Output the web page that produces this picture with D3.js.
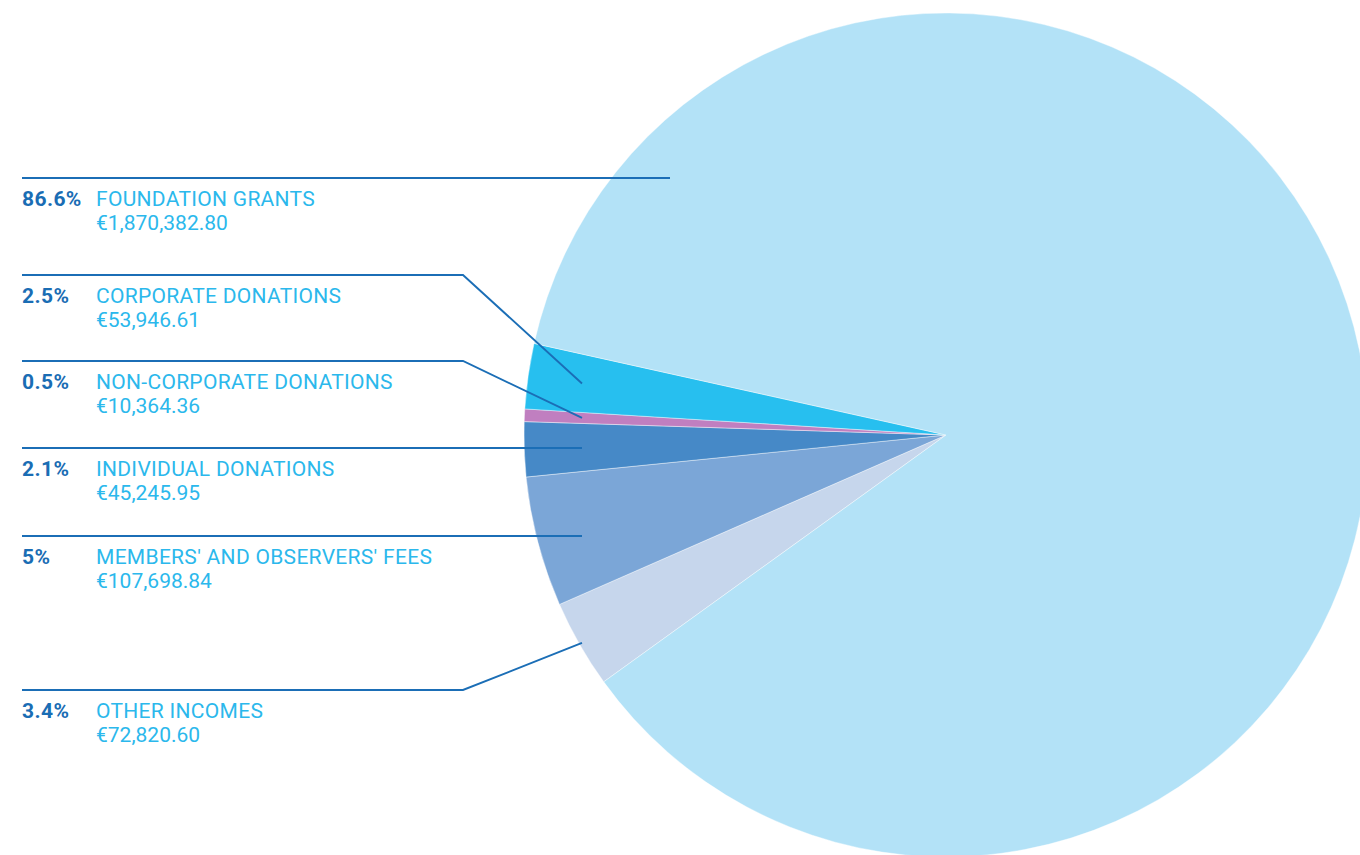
<!DOCTYPE html>
<html>
<head>
<meta charset="utf-8">
<script src="https://cdn.jsdelivr.net/npm/d3@7"></script>
<style>
  body { margin: 0; background: #fff; }
  svg { display: block; }
  .pct { font-family: Roboto, "DejaVu Sans", sans-serif; font-weight: 700; font-size: 21px; letter-spacing: 0.4px; fill: #1a6db4; }
  .name { font-family: Roboto, "DejaVu Sans", sans-serif; font-weight: 400; font-size: 21px; letter-spacing: 0.3px; fill: #2bb8ec; }
  .amount { font-family: Roboto, "DejaVu Sans", sans-serif; font-weight: 400; font-size: 21px; fill: #2bb8ec; }
  .leader { fill: none; stroke: #1b6eb6; stroke-width: 1.9; }
</style>
</head>
<body>
<svg id="pie" width="1360" height="855"></svg>
<script>
// slice order goes clockwise starting from the lower left
const categories = [
  "OTHER INCOMES",
  "MEMBERS' AND OBSERVERS' FEES",
  "INDIVIDUAL DONATIONS",
  "NON-CORPORATE DONATIONS",
  "CORPORATE DONATIONS",
  "FOUNDATION GRANTS"
];
const amounts = [72820.60, 107698.84, 45245.95, 10364.36, 53946.61, 1870382.80];
const percentLabels = ["3.4%", "5%", "2.1%", "0.5%", "2.5%", "86.6%"];
const amountLabels = ["€72,820.60", "€107,698.84", "€45,245.95", "€10,364.36", "€53,946.61", "€1,870,382.80"];
const colors = ["#c6d6ec", "#7ba6d7", "#4689c7", "#c07fc0", "#27bfef", "#b3e2f7"];

const svg = d3.select("svg#pie");
const cx = 946, cy = 435, radius = 422;
const startDeg = 234.2;

// label layout: y of the rule above each label, how the leader reaches the pie
const labelRows = [
  { y: 690, elbow: 463, anchorX: 582 },          // other
  { y: 536, elbow: null, anchorX: 582 },         // members
  { y: 448, elbow: null, anchorX: 582 },         // individual
  { y: 361, elbow: 463, anchorX: 582 },          // non-corporate
  { y: 275, elbow: 463, anchorX: 582 },          // corporate
  { y: 178, elbow: null, anchorX: 670 }          // foundation
];
const textLeft = 22, nameLeft = 96;

const data = categories.map((c, i) => ({
  name: c, value: amounts[i], pct: percentLabels[i], amount: amountLabels[i], color: colors[i], row: labelRows[i]
}));

const start = startDeg * Math.PI / 180;
const pie = d3.pie().value(d => d.value).sort(null)
  .startAngle(start).endAngle(start + 2 * Math.PI);
const arcs = pie(data);
const arc = d3.arc().innerRadius(0).outerRadius(radius);

const chartArea = svg.append("g").attr("transform", `translate(${cx},${cy})`);
chartArea.selectAll("path")
  .data(arcs)
  .join("path")
  .attr("d", arc)
  .attr("fill", d => d.data.color)
  .attr("stroke", "#ffffff")
  .attr("stroke-width", 0.6)
  .attr("stroke-opacity", 0.7);

const annotations = svg.append("g").attr("id", "annotations");

arcs.forEach(a => {
  const row = a.data.row;
  const mid = (a.startAngle + a.endAngle) / 2;
  let pts;
  if (row.elbow === null) {
    pts = [[textLeft, row.y], [row.anchorX, row.y]];
  } else {
    // point on the mid-angle ray at the anchor x
    const dx = row.anchorX - cx;
    const t = dx / Math.sin(mid);
    const ay = cy - Math.cos(mid) * t;
    pts = [[textLeft, row.y], [row.elbow, row.y], [row.anchorX, ay]];
  }
  annotations.append("path")
    .attr("class", "leader")
    .attr("d", d3.line()(pts));

  annotations.append("text").attr("class", "pct")
    .attr("x", textLeft).attr("y", row.y + 28).text(a.data.pct);
  annotations.append("text").attr("class", "name")
    .attr("x", nameLeft).attr("y", row.y + 28).text(a.data.name);
  annotations.append("text").attr("class", "amount")
    .attr("x", nameLeft).attr("y", row.y + 52).text(a.data.amount);
});
</script>
</body>
</html>
